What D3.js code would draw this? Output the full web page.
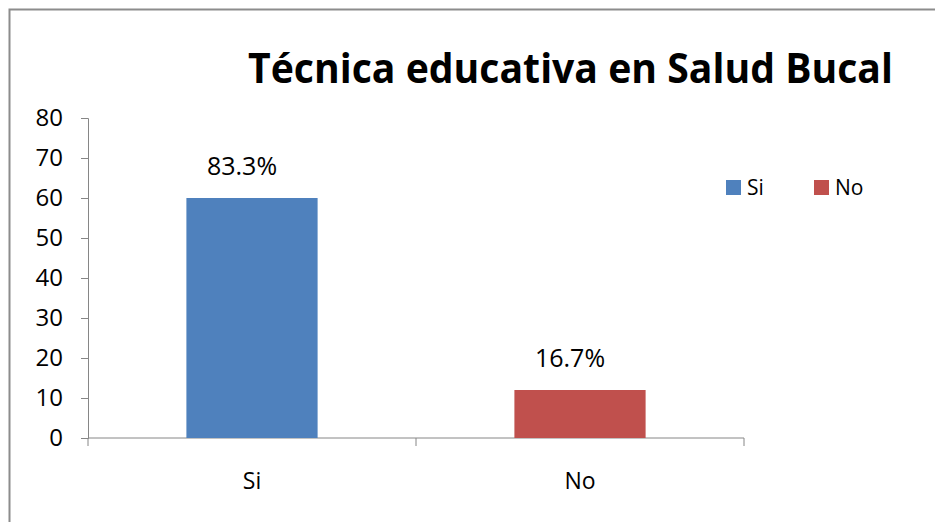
<!DOCTYPE html>
<html>
<head>
<meta charset="utf-8">
<script src="https://cdn.jsdelivr.net/npm/d3@7"></script>
<style>
  body { margin: 0; background: #fff; }
  text { font-family: "Open Sans", sans-serif; fill: #000; }
</style>
</head>
<body>
<div class="svgContainer"></div>
<script>
const categories = ['Si', 'No'];
const values = [60, 12];
const percentLabels = ['83.3%', '16.7%'];
const yTicks = [0, 10, 20, 30, 40, 50, 60, 70, 80];
const colors = ['#4F81BD', '#C0504D'];
const title = 'Técnica educativa en Salud Bucal';

const width = 935;
const height = 522;
const plot = { left: 88, right: 744, top: 118, bottom: 438 };

const svg = d3.select('.svgContainer').append('svg')
  .attr('width', width)
  .attr('height', height);

// chart frame (only left and top edges visible)
svg.append('path')
  .attr('d', 'M9.5,' + height + 'V9.5H' + width)
  .attr('fill', 'none')
  .attr('stroke', '#8c8c8c')
  .attr('stroke-width', 2);

const scaleX = d3.scaleBand()
  .domain(categories)
  .range([plot.left, plot.right])
  .paddingInner(0.6)
  .paddingOuter(0.3);

const scaleY = d3.scaleLinear()
  .domain([0, 80])
  .range([plot.bottom, plot.top]);

// y axis
const yAxis = d3.axisLeft(scaleY)
  .tickValues(yTicks)
  .tickSize(7)
  .tickPadding(18);

const gy = svg.append('g')
  .attr('transform', 'translate(' + plot.left + ',0)')
  .call(yAxis);
gy.select('.domain').attr('stroke', '#868686');
gy.selectAll('.tick line').attr('stroke', '#868686');
gy.selectAll('.tick text')
  .attr('font-size', 24)
  .attr('font-family', 'Open Sans')
  .attr('fill', '#000');

// x axis: ticks on category boundaries
const xAxisG = svg.append('g').attr('class', 'x-axis');
xAxisG.append('line')
  .attr('x1', plot.left).attr('x2', plot.right)
  .attr('y1', plot.bottom).attr('y2', plot.bottom)
  .attr('stroke', '#868686');
const bounds = [plot.left].concat(categories.map(c => scaleX(c) + scaleX.bandwidth() / 2 + scaleX.step() / 2));
xAxisG.selectAll('line.tk')
  .data(bounds)
  .enter()
  .append('line')
  .attr('class', 'tk')
  .attr('x1', d => d).attr('x2', d => d)
  .attr('y1', plot.bottom).attr('y2', plot.bottom + 8)
  .attr('stroke', '#868686');
xAxisG.selectAll('text')
  .data(categories)
  .enter()
  .append('text')
  .attr('x', d => scaleX(d) + scaleX.bandwidth() / 2)
  .attr('y', 489)
  .attr('text-anchor', 'middle')
  .attr('font-size', 23)
  .text(d => d);

// bars
svg.selectAll('rect.bar')
  .data(values)
  .enter()
  .append('rect')
  .attr('class', 'bar')
  .attr('x', (d, i) => scaleX(categories[i]))
  .attr('y', d => scaleY(d))
  .attr('width', scaleX.bandwidth())
  .attr('height', d => plot.bottom - scaleY(d))
  .attr('fill', (d, i) => colors[i]);

// data labels
svg.selectAll('text.lbl')
  .data(values)
  .enter()
  .append('text')
  .attr('class', 'lbl')
  .attr('x', (d, i) => scaleX(categories[i]) + scaleX.bandwidth() / 2 - 10)
  .attr('y', d => scaleY(d) - 23)
  .attr('text-anchor', 'middle')
  .attr('font-size', 25)
  .text((d, i) => percentLabels[i]);

// title
svg.append('text')
  .attr('x', 248)
  .attr('y', 83)
  .attr('font-size', 41)
  .attr('font-weight', 'bold')
  .attr('textLength', 645)
  .attr('lengthAdjust', 'spacingAndGlyphs')
  .text(title);

// legend
const legend = svg.append('g').attr('transform', 'translate(726,180)');
const li = legend.selectAll('g')
  .data(categories)
  .enter()
  .append('g')
  .attr('transform', (d, i) => 'translate(' + (i * 88) + ',0)');
li.append('rect')
  .attr('width', 15).attr('height', 15)
  .attr('fill', (d, i) => colors[i]);
li.append('text')
  .attr('x', 21)
  .attr('y', 15)
  .attr('font-size', 21)
  .text(d => d);
</script>
</body>
</html>
